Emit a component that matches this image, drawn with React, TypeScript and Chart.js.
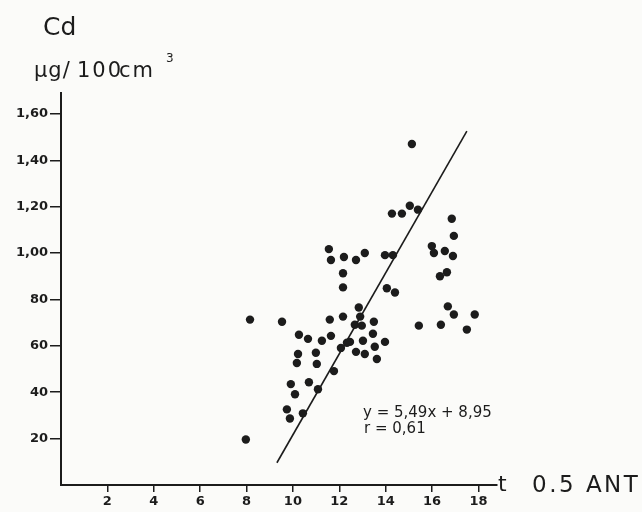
import React, { useEffect, useRef } from 'react';
import { Chart, registerables } from 'chart.js';

Chart.register(...registerables);

// Measured points: t (0.5 ANT) vs Cd (µg/100cm³, axis in hundredths)
const xValues = [
  7.97, 8.15, 9.53, 9.74, 9.87, 10.43, 9.91, 10.09, 10.69, 11.08,
  10.22, 10.17, 10.99, 11.03, 10.26, 10.65, 11.25, 11.64, 11.77, 11.59,
  12.16, 12.84, 12.9, 12.67, 12.97, 13.49, 13.45, 13.02, 12.46, 12.07,
  13.53, 13.97, 12.72, 13.1, 13.62, 11.55, 11.64, 12.2, 12.72, 13.1,
  12.16, 12.16, 13.97, 14.31, 14.05, 14.4, 15.13, 14.27, 14.7, 15.04,
  15.39, 16.85, 16.94, 15.99, 16.08, 16.55, 16.9, 16.34, 16.64, 16.68,
  16.94, 17.84, 15.43, 16.38, 17.5, 12.33,
];
const yValues = [
  19.6, 71.3, 70.4, 32.6, 28.7, 30.9, 43.5, 39.1, 44.3, 41.3,
  56.5, 52.6, 57.0, 52.2, 64.8, 63.0, 62.2, 64.3, 49.1, 71.3,
  72.6, 76.5, 72.6, 69.1, 68.7, 70.4, 65.2, 62.2, 61.7, 59.1,
  59.6, 61.7, 57.4, 56.5, 54.3, 101.7, 97.0, 98.3, 97.0, 100,
  91.3, 85.2, 99.1, 99.1, 84.8, 83.0, 147, 117, 117, 120.4,
  118.7, 114.8, 107.4, 103, 100, 100.9, 98.7, 90, 91.7, 77,
  73.5, 73.5, 68.7, 69.1, 67, 61.3,
];

// Regression line end points as drawn
const fitX = [9.31, 17.5];
const fitY = [9.6, 152.6];

const xTickValues = [2, 4, 6, 8, 10, 12, 14, 16, 18];
const xTickLabels = ['2', '4', '6', '8', '10', '12', '14', '16', '18'];
const yTickValues = [20, 40, 60, 80, 100, 120, 140, 160];
const yTickLabels = ['20', '40', '60', '80', '1,00', '1,20', '1,40', '1,60'];

const INK = '#1c1c1c';

export default function App() {
  const ref = useRef<HTMLCanvasElement | null>(null);

  useEffect(() => {
    if (!ref.current) return;
    const textPlugin = {
      id: 'texts',
      beforeDraw(chart: any) {
        const c = chart.ctx;
        c.save();
        c.fillStyle = '#fbfbf9';
        c.fillRect(0, 0, chart.width, chart.height);
        c.restore();
      },
      afterDraw(chart: any) {
        const c = chart.ctx;
        c.save();
        c.fillStyle = INK;
        c.textBaseline = 'alphabetic';
        c.textAlign = 'left';
        c.font = '25px "DejaVu Sans"';
        c.fillText('Cd', 43, 35);
        c.font = '21px "DejaVu Sans"';
        c.letterSpacing = '1px';
        c.fillText('µg/', 34, 77);
        c.letterSpacing = '2px';
        c.fillText('100', 77, 77);
        c.letterSpacing = '2px';
        c.fillText('cm', 119, 77);
        c.letterSpacing = '0px';
        c.font = '12px "DejaVu Sans"';
        c.fillText('3', 166, 62);
        c.font = '22px "DejaVu Sans"';
        c.fillText('t', 498, 491);
        c.font = '23px "DejaVu Sans"';
        c.letterSpacing = '2.5px';
        c.fillText('0.5 ANT', 532, 492);
        c.letterSpacing = '0px';
        c.font = '15px "DejaVu Sans"';
        c.fillText('y = 5,49x + 8,95', 363, 417);
        c.fillText('r = 0,61', 364, 433);
        c.restore();
      },
    };

    const chart = new Chart(ref.current, {
      type: 'scatter',
      data: {
        datasets: [
          {
            type: 'scatter',
            data: xValues.map((x, i) => ({ x, y: yValues[i] })),
            backgroundColor: INK,
            borderColor: INK,
            pointRadius: 4.2,
            pointBorderWidth: 0,
          },
          {
            type: 'line',
            data: fitX.map((x, i) => ({ x, y: fitY[i] })),
            borderColor: INK,
            borderWidth: 1.6,
            pointRadius: 0,
            fill: false,
          } as any,
        ],
      },
      options: {
        responsive: false,
        animation: false,
        devicePixelRatio: 1,
        layout: { padding: { left: 0, top: 93, right: 145, bottom: 0 } },
        plugins: { legend: { display: false }, tooltip: { enabled: false } },
        scales: {
          x: {
            type: 'linear',
            min: 0,
            max: 18.8,
            afterBuildTicks: (s: any) => {
              s.ticks = xTickValues.map((v) => ({ value: v }));
            },
            afterFit: (s: any) => {
              s.height = 27;
            },
            border: { display: true, color: INK, width: 2 },
            grid: { drawOnChartArea: false, drawTicks: true, tickLength: 7, color: INK, lineWidth: 1.5 },
            ticks: {
              padding: 2,
              color: INK,
              autoSkip: false,
              maxRotation: 0,
              font: { family: 'DejaVu Sans', size: 13, weight: 'bold' },
              callback: (v: any) => {
                const i = xTickValues.indexOf(Number(v));
                return i >= 0 ? xTickLabels[i] : '';
              },
            },
          },
          y: {
            type: 'linear',
            min: 0,
            max: 169,
            afterBuildTicks: (s: any) => {
              s.ticks = yTickValues.map((v) => ({ value: v }));
            },
            afterFit: (s: any) => {
              s.width = 61;
            },
            border: { display: true, color: INK, width: 2 },
            grid: { drawOnChartArea: false, drawTicks: true, tickLength: 11, color: INK, lineWidth: 1.5 },
            ticks: {
              padding: 2,
              color: INK,
              autoSkip: false,
              font: { family: 'DejaVu Sans', size: 13, weight: 'bold' },
              callback: (v: any) => {
                const i = yTickValues.indexOf(Number(v));
                return i >= 0 ? yTickLabels[i] : '';
              },
            },
          },
        },
      },
      plugins: [textPlugin],
    } as any);
    return () => chart.destroy();
  }, []);

  return (
    <div style={{ position: 'fixed', left: 0, top: 0, width: 642, height: 512 }}>
      <canvas ref={ref} width={642} height={512} style={{ width: 642, height: 512, display: 'block' }} />
    </div>
  );
}
